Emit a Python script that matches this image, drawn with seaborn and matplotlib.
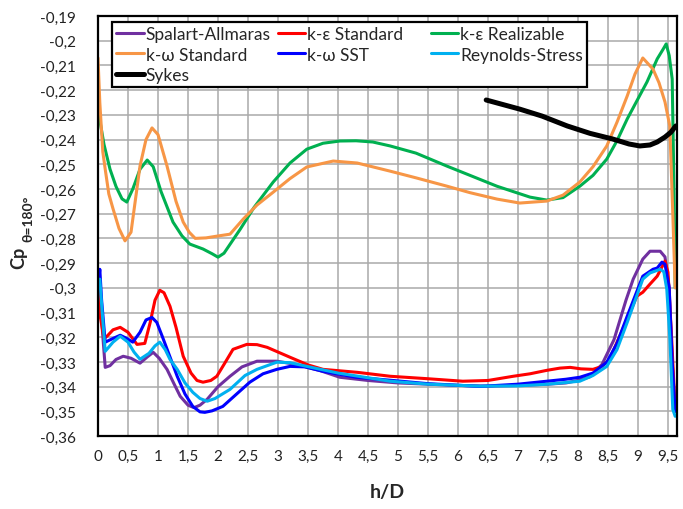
import seaborn as sns
import matplotlib.pyplot as plt
from matplotlib.ticker import MultipleLocator, FuncFormatter

# Spalart-Allmaras
sa_x = [0, 0.05, 0.12, 0.2, 0.3, 0.42, 0.55, 0.7, 0.82, 0.92,
        1.02, 1.15, 1.27, 1.37, 1.5, 1.6, 1.7, 1.82, 2.0, 2.2,
        2.4, 2.65, 2.98, 3.3, 3.7, 4.03, 4.5, 5.0, 5.5, 6.0,
        6.5, 7.0, 7.5, 7.8, 8.0, 8.2, 8.4, 8.6, 8.8, 8.92,
        9.08, 9.2, 9.37, 9.45, 9.52, 9.57, 9.62]
sa_y = [-0.297, -0.31, -0.3322, -0.3315, -0.329, -0.3277, -0.3285, -0.3305, -0.328, -0.3261,
        -0.3285, -0.333, -0.339, -0.3439, -0.3475, -0.3485, -0.3475, -0.3451, -0.340, -0.3358,
        -0.332, -0.3297, -0.3297, -0.331, -0.3335, -0.3362, -0.3375, -0.3385, -0.339, -0.3395,
        -0.3398, -0.3395, -0.339, -0.3385, -0.3375, -0.336, -0.331, -0.321, -0.305, -0.2965,
        -0.2884, -0.2852, -0.2852, -0.2875, -0.30, -0.33, -0.35]

# k-e Standard
kes_x = [0, 0.04, 0.1, 0.15, 0.25, 0.37, 0.5, 0.65, 0.78, 0.87,
         0.95, 1.03, 1.1, 1.2, 1.3, 1.42, 1.55, 1.65, 1.75, 1.88,
         1.98, 2.1, 2.25, 2.48, 2.65, 2.82, 3.0, 3.2, 3.5, 3.75,
         4.32, 4.87, 5.5, 6.08, 6.5, 6.92, 7.2, 7.48, 7.7, 7.87,
         8.05, 8.25, 8.4, 8.53, 8.65, 8.82, 8.98, 9.08, 9.2, 9.32,
         9.45, 9.5, 9.56, 9.62]
kes_y = [-0.298, -0.312, -0.3205, -0.3196, -0.317, -0.316, -0.318, -0.3229, -0.3225, -0.314,
         -0.305, -0.301, -0.302, -0.3075, -0.316, -0.3277, -0.3345, -0.3375, -0.3382, -0.3375,
         -0.3358, -0.331, -0.3249, -0.3229, -0.323, -0.3241, -0.326, -0.3281, -0.3312, -0.333,
         -0.3342, -0.3358, -0.3368, -0.3378, -0.3375, -0.3358, -0.3348, -0.3334, -0.3325, -0.3322,
         -0.3328, -0.333, -0.3318, -0.3289, -0.322, -0.3127, -0.3034, -0.3018, -0.2985, -0.2953,
         -0.2892, -0.2937, -0.32, -0.35]

# k-e Realizable
ker_x = [0, 0.1, 0.2, 0.3, 0.4, 0.48, 0.58, 0.7, 0.82, 0.92,
         1.05, 1.25, 1.4, 1.53, 1.75, 1.9, 2.0, 2.1, 2.37, 2.6,
         2.92, 3.2, 3.48, 3.75, 4.03, 4.3, 4.58, 4.87, 5.3, 5.82,
         6.2, 6.65, 7.2, 7.48, 7.75, 8.03, 8.25, 8.48, 8.65, 8.82,
         9.0, 9.15, 9.32, 9.42, 9.47, 9.52, 9.57, 9.6, 9.62]
ker_y = [-0.228, -0.242, -0.252, -0.259, -0.264, -0.2653, -0.26, -0.252, -0.2483, -0.251,
         -0.261, -0.2734, -0.279, -0.2823, -0.2843, -0.2862, -0.2876, -0.286, -0.2763, -0.2675,
         -0.2572, -0.2495, -0.2439, -0.2415, -0.2406, -0.2405, -0.241, -0.2426, -0.2455, -0.2508,
         -0.2545, -0.2589, -0.2633, -0.2645, -0.2635, -0.2589, -0.2545, -0.2479, -0.2405, -0.2317,
         -0.2235, -0.2167, -0.2074, -0.2034, -0.2013, -0.206, -0.2155, -0.26, -0.30]

# k-w Standard
kws_x = [0, 0.03, 0.08, 0.12, 0.18, 0.25, 0.35, 0.45, 0.55, 0.7,
         0.8, 0.9, 1.0, 1.15, 1.3, 1.42, 1.52, 1.62, 1.8, 1.98,
         2.2, 2.42, 2.65, 2.92, 3.2, 3.48, 3.92, 4.32, 4.87, 5.3,
         5.82, 6.2, 6.65, 7.03, 7.48, 7.75, 8.03, 8.25, 8.48, 8.65,
         8.82, 8.95, 9.08, 9.25, 9.35, 9.45, 9.53, 9.58, 9.62]
kws_y = [-0.207, -0.225, -0.245, -0.252, -0.262, -0.268, -0.276, -0.281, -0.2775, -0.2507,
         -0.240, -0.2353, -0.238, -0.2507, -0.265, -0.2734, -0.2775, -0.28, -0.2798, -0.2791,
         -0.2783, -0.2722, -0.2665, -0.2613, -0.2558, -0.2511, -0.2487, -0.2495, -0.2528, -0.2555,
         -0.2589, -0.2615, -0.2641, -0.2657, -0.2649, -0.2625, -0.2572, -0.251, -0.2426, -0.233,
         -0.2224, -0.2135, -0.207, -0.2115, -0.217, -0.2248, -0.2345, -0.27, -0.30]

# k-w SST
sst_x = [0, 0.03, 0.06, 0.12, 0.25, 0.37, 0.48, 0.58, 0.7, 0.8,
         0.9, 0.98, 1.07, 1.2, 1.32, 1.45, 1.58, 1.7, 1.78, 1.9,
         2.08, 2.3, 2.53, 2.75, 2.98, 3.2, 3.45, 3.75, 4.3, 4.87,
         5.5, 6.37, 7.0, 7.48, 7.8, 8.03, 8.25, 8.48, 8.65, 8.82,
         9.08, 9.25, 9.32, 9.4, 9.45, 9.52, 9.57, 9.62]
sst_y = [-0.30, -0.2925, -0.305, -0.322, -0.3205, -0.3192, -0.3205, -0.322, -0.318, -0.313,
         -0.312, -0.314, -0.3196, -0.328, -0.3358, -0.343, -0.348, -0.3502, -0.3504, -0.3498,
         -0.348, -0.3432, -0.3382, -0.3348, -0.333, -0.3318, -0.332, -0.3338, -0.3362, -0.3374,
         -0.3388, -0.3399, -0.339, -0.3378, -0.337, -0.3362, -0.3345, -0.3301, -0.3225, -0.3115,
         -0.2953, -0.2925, -0.292, -0.2896, -0.2905, -0.30, -0.33, -0.35]

# Reynolds-Stress
rs_x = [0, 0.03, 0.07, 0.12, 0.25, 0.37, 0.5, 0.6, 0.7, 0.85,
        0.95, 1.03, 1.12, 1.2, 1.32, 1.45, 1.58, 1.7, 1.82, 1.95,
        2.2, 2.45, 2.65, 2.98, 3.2, 3.48, 4.0, 4.87, 5.5, 6.37,
        7.0, 7.5, 8.03, 8.25, 8.48, 8.65, 8.82, 9.08, 9.2, 9.37,
        9.43, 9.48, 9.53, 9.58, 9.62]
rs_y = [-0.298, -0.2965, -0.31, -0.3257, -0.322, -0.3196, -0.322, -0.326, -0.3289, -0.3265,
        -0.3235, -0.322, -0.325, -0.329, -0.333, -0.3385, -0.3423, -0.3448, -0.3459, -0.3448,
        -0.3411, -0.3355, -0.333, -0.3301, -0.3303, -0.3318, -0.3345, -0.3378, -0.339, -0.3398,
        -0.3397, -0.339, -0.3378, -0.3355, -0.3318, -0.325, -0.314, -0.2965, -0.294, -0.2925,
        -0.2935, -0.3006, -0.32, -0.3492, -0.352]

# Sykes (experiment)
sykes_x = [6.47, 7.03, 7.4, 7.82, 8.2, 8.58, 8.85, 9.03, 9.2, 9.32, 9.45, 9.55, 9.63]
sykes_y = [-0.224, -0.2277, -0.2305, -0.2345, -0.2375, -0.2398, -0.2418, -0.2426,
           -0.2422, -0.241, -0.239, -0.237, -0.2345]

sns.set_style("white")
plt.rcParams['font.family'] = ['Lato', 'DejaVu Sans']

fig = plt.figure(figsize=(6.83, 5.10), dpi=100)
ax = fig.add_axes([0.1435, 0.143, 0.8477, 0.8237])

series = [
    ("Spalart-Allmaras", sa_x, sa_y, "#7030A0", 2.2),
    ("k-ε Standard", kes_x, kes_y, "#FF0000", 2.2),
    ("k-ε Realizable", ker_x, ker_y, "#00B050", 2.2),
    ("k-ω Standard", kws_x, kws_y, "#F79646", 2.2),
    ("k-ω SST", sst_x, sst_y, "#0000FF", 2.2),
    ("Reynolds-Stress", rs_x, rs_y, "#00B0F0", 2.2),
    ("Sykes", sykes_x, sykes_y, "#000000", 3.6),
]
for name, x, y, color, lw in series:
    sns.lineplot(x=x, y=y, ax=ax, color=color, linewidth=lw, sort=False,
                 estimator=None, label=name)

ax.set_xlim(0, 9.65)
ax.set_ylim(-0.36, -0.19)
ax.xaxis.set_major_locator(MultipleLocator(0.5))
ax.yaxis.set_major_locator(MultipleLocator(0.01))
fmt = FuncFormatter(lambda v, p: f"{round(v, 4):g}".replace('.', ','))
ax.xaxis.set_major_formatter(fmt)
ax.yaxis.set_major_formatter(fmt)
ax.tick_params(length=0, labelsize=11, colors='#222222')
ax.tick_params(axis='y', pad=16)
ax.tick_params(axis='x', pad=9)

ax.grid(True, color='#AAAAAA', linewidth=1.1)
ax.set_axisbelow(True)
for s in ax.spines.values():
    s.set_color('black')
    s.set_linewidth(1.6)

ax.set_xlabel("h/D", fontsize=14, fontweight='bold')
ax.xaxis.set_label_coords(0.5, -0.112)
ax.set_ylabel("")
# y label: "Cp" with a small subscript
fig.text(19 / 683, 1 - 258 / 510, "Cp", rotation=90, fontsize=13,
         fontweight='bold', ha='center', va='center')
fig.text(28.5 / 683, 1 - 219 / 510, "θ=180°", rotation=90, fontsize=10,
         fontweight='bold', ha='center', va='center')

handles, labels = ax.get_legend_handles_labels()
order = [0, 3, 6, 1, 4, 2, 5]
labels = [labels[i] for i in order]
# Excel gives all legend columns the same width
labels[3] = labels[3] + "\u2007" * 2
leg = ax.legend([handles[i] for i in order], labels,
                ncol=3, loc='upper left', bbox_to_anchor=(0.024, 0.986),
                fontsize=12.5, frameon=True, fancybox=False, framealpha=1,
                edgecolor='black', handlelength=1.6, handletextpad=0.1,
                columnspacing=0.4, labelspacing=0.25, borderpad=0.25,
                borderaxespad=0)
leg.get_frame().set_linewidth(1.6)

plt.savefig("out.png", dpi=100)
